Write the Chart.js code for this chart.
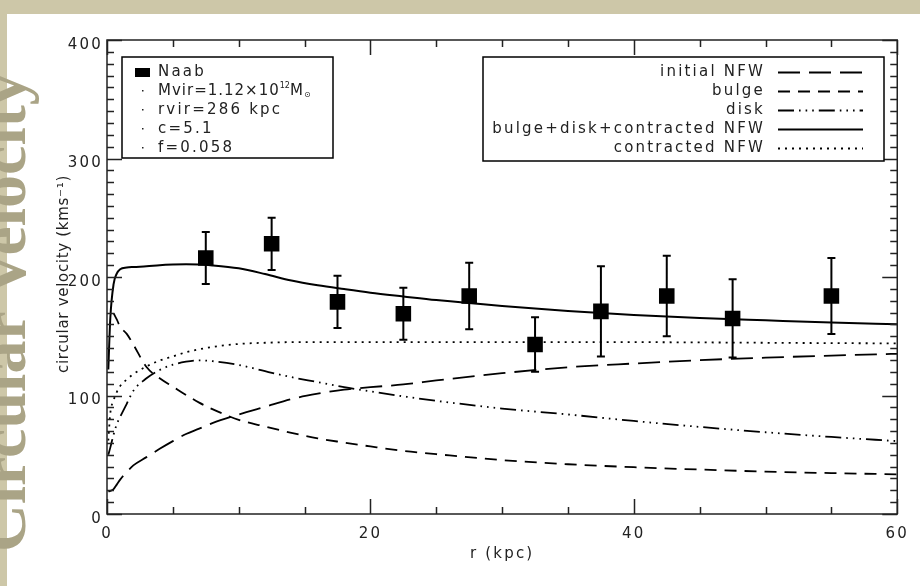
<!DOCTYPE html>
<html lang="en">
<head>
  <meta charset="UTF-8" />
  <title>circular velocity</title>
  <script src="https://cdn.jsdelivr.net/npm/chart.js"></script>
  <style>
    html, body { margin: 0; padding: 0; }
    body {
      width: 920px;
      height: 586px;
      position: relative;
      overflow: hidden;
      background: #cdc7a8;
    }
    /* white sheet on the beige background */
    .paper { position: absolute; left: 7px; top: 14px; right: 0; bottom: 0; background: #fff; }
    /* big decorative title, half off the page */
    .deco {
      position: absolute;
      left: -30px;
      top: 552px;
      transform-origin: 0 0;
      transform: rotate(-90deg);
      font-family: "Liberation Serif", serif;
      font-weight: bold;
      font-size: 66px;
      line-height: 1;
      color: #aaa486;
      white-space: nowrap;
    }
    .chart-box { position: absolute; left: 0; top: 0; width: 920px; height: 586px; }
  </style>
</head>
<body>
  <div class="paper"></div>
  <div class="deco">Circular Velocity</div>
  <div class="chart-box"><canvas id="vc"></canvas></div>

  <script>
    // radius grid for the model curves (kpc)
    const rGrid = [0.1, 0.25, 0.5, 0.75, 1, 1.5, 2, 3, 4, 5, 6, 7, 8, 10, 12, 14, 16, 18, 20, 22.5, 25, 30, 35, 40, 45, 50, 55, 60];
    const vInitialNFW = [19, 19.5, 21, 25, 29, 35.5, 41, 48, 55, 61.5, 67.5, 72, 76.7, 84, 90.5, 97, 101.5, 105, 107, 109.3, 112.7, 118.8, 123.8, 127, 129.8, 131.9, 133.7, 135.2];
    const vBulge = [null, null, 169.5, 164, 158, 152, 143, 124, 114.5, 107.5, 100.5, 94, 88.5, 79.5, 73.8, 68.5, 63.8, 60.3, 57, 53.2, 50.5, 45.5, 42, 39.5, 37.5, 35.8, 34.5, 33.5];
    const vDisk = [50, 56, 67, 76, 82, 93, 104, 114.5, 121.5, 126, 128.5, 129.7, 129, 125.8, 120.5, 115.5, 111.3, 107, 103.5, 99.3, 95.5, 89, 84, 78.5, 73.5, 69, 65, 61.5];
    const vTotal = [122, 165, 194, 203, 206.5, 208, 208.5, 209, 210, 210.5, 210.7, 210.5, 209.8, 207.3, 202.5, 197, 193, 189.8, 186.8, 183.6, 180.5, 175.5, 171.3, 168, 165.4, 163.4, 161.5, 160.2];
    const vContracted = [62, 85, 96, 103, 108, 113.5, 118, 124.5, 129.5, 133, 136.5, 139, 141, 143.5, 144.5, 145, 145, 145, 145, 145, 145, 145, 145, 145, 144.8, 144.5, 144.2, 144];

    // Naab data points with errors
    const rNaab = [7.5, 12.5, 17.5, 22.5, 27.5, 32.5, 37.5, 42.5, 47.5, 55];
    const vNaab = [216, 228, 179, 169, 184, 143, 171, 184, 165, 184];
    const eNaab = [22, 22, 22, 22, 28, 23, 38, 34, 33, 32];

    const xTicks = [0, 20, 40, 60];
    const yTicks = [0, 100, 200, 300, 400];

    const leftLegend = ['Naab', 'Mvir', 'rvir=286 kpc', 'c=5.1', 'f=0.058'];
    const curveNames = ['initial NFW', 'bulge', 'disk', 'bulge+disk+contracted NFW', 'contracted NFW'];
    const yTitle = 'circular velocity (kms\u207b\u00b9)';

    const FONT = 'DejaVu Sans';
    const INK = '#222';
    const SPACING = 2.2;

    const dashes = {
      initial: [22, 9],
      bulge: [12, 8],
      disk: [16, 5, 1.6, 5, 1.6, 5, 1.6, 5],
      total: [],
      contracted: [2, 5]
    };

    function pairs(vals) {
      return rGrid.map((r, i) => ({ x: r, y: vals[i] })).filter(p => p.y !== null);
    }

    function curve(vals, dash, width) {
      return {
        type: 'line',
        data: pairs(vals),
        borderColor: '#000',
        borderWidth: width,
        borderDash: dash,
        pointRadius: 0,
        fill: false,
        cubicInterpolationMode: 'monotone',
        order: 1
      };
    }

    function spacing(ctx, px) {
      if ('letterSpacing' in ctx) ctx.letterSpacing = px + 'px';
    }

    // widen the text a bit, like the original plotting font
    const textSpacing = {
      id: 'textSpacing',
      beforeLayout(chart) { spacing(chart.ctx, SPACING); },
      beforeDraw(chart) { spacing(chart.ctx, SPACING); }
    };

    // frame with inward ticks on all four sides, plus the y title
    const frameTicks = {
      id: 'frameTicks',
      afterDatasetsDraw(chart) {
        const { ctx, chartArea: a, scales: { x, y } } = chart;
        ctx.save();
        ctx.strokeStyle = INK;
        ctx.lineWidth = 1.5;
        ctx.strokeRect(a.left, a.top, a.right - a.left, a.bottom - a.top);
        ctx.beginPath();
        for (let v = 0; v <= 400; v += 10) {
          const py = Math.round(y.getPixelForValue(v)) + 0.5;
          const len = v % 100 === 0 ? 15 : 7;
          ctx.moveTo(a.left, py); ctx.lineTo(a.left + len, py);
          ctx.moveTo(a.right, py); ctx.lineTo(a.right - len, py);
        }
        for (let r = 0; r <= 60; r += 5) {
          const px = Math.round(x.getPixelForValue(r)) + 0.5;
          const len = r % 20 === 0 ? 15 : 7;
          ctx.moveTo(px, a.bottom); ctx.lineTo(px, a.bottom - len);
          ctx.moveTo(px, a.top); ctx.lineTo(px, a.top + len);
        }
        ctx.stroke();

        // y axis title, tighter than the tick labels
        ctx.translate(64, (a.top + a.bottom) / 2 - 3);
        ctx.rotate(-Math.PI / 2);
        spacing(ctx, 0.7);
        ctx.font = `15px "${FONT}"`;
        ctx.fillStyle = INK;
        ctx.textAlign = 'center';
        ctx.textBaseline = 'middle';
        ctx.fillText(yTitle, 0, 0);
        ctx.restore();
      }
    };

    // vertical error bars with caps
    const errorBars = {
      id: 'errorBars',
      afterDatasetsDraw(chart) {
        const { ctx, scales: { x, y } } = chart;
        ctx.save();
        ctx.strokeStyle = '#000';
        ctx.lineWidth = 2;
        ctx.setLineDash([]);
        ctx.beginPath();
        rNaab.forEach((r, i) => {
          const px = x.getPixelForValue(r);
          const top = y.getPixelForValue(vNaab[i] + eNaab[i]);
          const bot = y.getPixelForValue(vNaab[i] - eNaab[i]);
          ctx.moveTo(px, top); ctx.lineTo(px, bot);
          ctx.moveTo(px - 4, top); ctx.lineTo(px + 4, top);
          ctx.moveTo(px - 4, bot); ctx.lineTo(px + 4, bot);
        });
        ctx.stroke();
        ctx.restore();
      }
    };

    // the two boxed legends
    const legends = {
      id: 'legends',
      afterDraw(chart) {
        const ctx = chart.ctx;
        ctx.save();
        spacing(ctx, SPACING);
        ctx.strokeStyle = '#000';
        ctx.lineWidth = 1.5;
        ctx.fillStyle = '#fff';
        ctx.fillRect(122, 57, 211, 101);
        ctx.strokeRect(122, 57, 211, 101);
        ctx.fillRect(483, 57, 401, 104);
        ctx.strokeRect(483, 57, 401, 104);

        const rows = [72, 91, 110, 129, 148];
        ctx.textBaseline = 'middle';
        ctx.textAlign = 'left';
        ctx.font = `15px "${FONT}"`;

        // left box
        ctx.fillStyle = '#000';
        ctx.fillRect(135, 68, 15, 9);
        ctx.fillStyle = INK;
        ctx.fillText(leftLegend[0], 158, rows[0]);
        for (let i = 1; i < 5; i++) ctx.fillRect(142, rows[i] - 1, 1.5, 1.5);
        let tx = 158;
        const seg = (t, size, dy) => {
          ctx.font = `${size}px "${FONT}"`;
          ctx.fillText(t, tx, rows[1] + dy);
          tx += ctx.measureText(t).width;
        };
        spacing(ctx, 1.0);
        seg('Mvir=1.12\u00d710', 15, 0);
        spacing(ctx, 0);
        seg('12', 8, -5);
        spacing(ctx, 1.0);
        seg('M', 15, 0);
        seg('\u2299', 8, 4);
        spacing(ctx, SPACING);
        ctx.font = `15px "${FONT}"`;
        for (let i = 2; i < 5; i++) ctx.fillText(leftLegend[i], 158, rows[i]);

        // right box
        ctx.textAlign = 'right';
        const keys = ['initial', 'bulge', 'disk', 'total', 'contracted'];
        curveNames.forEach((name, i) => {
          ctx.fillText(name, 765, rows[i]);
          ctx.beginPath();
          ctx.setLineDash(dashes[keys[i]]);
          ctx.lineWidth = 1.8;
          ctx.moveTo(778, rows[i] + 0.5);
          ctx.lineTo(863, rows[i] + 0.5);
          ctx.stroke();
        });
        ctx.restore();
      }
    };

    const tickFont = { family: FONT, size: 15 };

    new Chart(document.getElementById('vc'), {
      data: {
        datasets: [
          {
            type: 'scatter',
            data: rNaab.map((r, i) => ({ x: r, y: vNaab[i] })),
            pointStyle: 'rect',
            pointRadius: 11,
            backgroundColor: '#000',
            borderColor: '#000',
            borderWidth: 0,
            order: 0
          },
          curve(vInitialNFW, dashes.initial, 1.8),
          curve(vBulge, dashes.bulge, 1.8),
          curve(vDisk, dashes.disk, 1.8),
          curve(vTotal, dashes.total, 2),
          curve(vContracted, dashes.contracted, 1.8)
        ]
      },
      options: {
        responsive: true,
        maintainAspectRatio: false,
        animation: false,
        layout: { padding: { top: 40, right: 21, left: 0, bottom: 0 } },
        plugins: { legend: { display: false }, tooltip: { enabled: false } },
        scales: {
          x: {
            type: 'linear',
            min: 0,
            max: 60,
            afterBuildTicks: s => { s.ticks = xTicks.map(v => ({ value: v })); },
            afterFit: s => { s.height = 72; },
            grid: { display: false, drawTicks: false },
            border: { display: false },
            ticks: { font: tickFont, color: INK, padding: 11, maxRotation: 0, autoSkip: false },
            title: { display: true, text: 'r (kpc)', font: tickFont, color: INK, padding: { top: 0, bottom: 23 } }
          },
          y: {
            type: 'linear',
            min: 0,
            max: 400,
            afterBuildTicks: s => { s.ticks = yTicks.map(v => ({ value: v })); },
            afterFit: s => { s.width = 107; },
            grid: { display: false, drawTicks: false },
            border: { display: false },
            ticks: { font: tickFont, color: INK, padding: 4, labelOffset: 5 }
          }
        }
      },
      plugins: [textSpacing, errorBars, frameTicks, legends]
    });
  </script>
</body>
</html>
